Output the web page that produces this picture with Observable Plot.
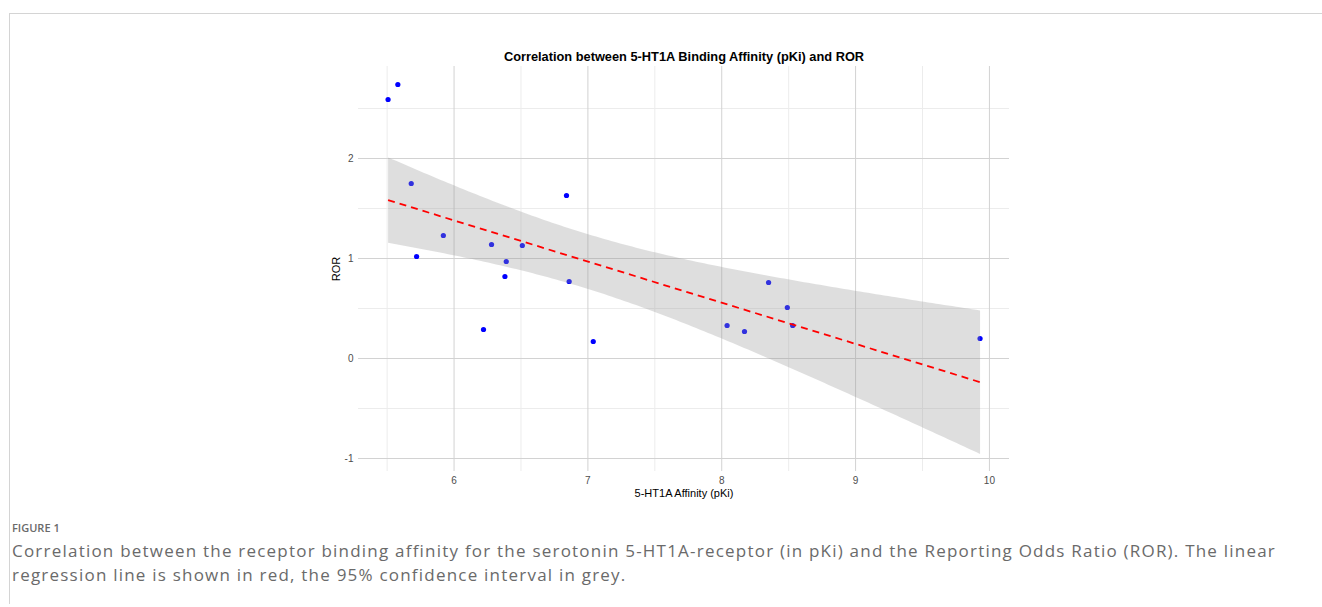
<!DOCTYPE html>
<html>
<head>
<meta charset="utf-8">
<script src="https://cdn.jsdelivr.net/npm/d3@7"></script>
<script src="https://cdn.jsdelivr.net/npm/@observablehq/plot@0.6"></script>
<style>
  html, body { margin: 0; padding: 0; background: #fff; width: 1322px; height: 607px; overflow: hidden; }
  #frame { position: absolute; left: 9px; top: 13px; right: 0; height: 590px; border-left: 1px solid #d4d4d4; border-top: 1px solid #d4d4d4; }
  #chart { position: absolute; left: 0; top: 0; }
  #figlabel { position: absolute; left: 12px; top: 520px; font-family: "Open Sans", sans-serif; font-size: 11px; font-weight: 600; color: #6a6a6a; }
  .cap { position: absolute; left: 12px; font-family: "Open Sans", sans-serif; font-size: 17px; color: #6a6a6a; white-space: nowrap; }
</style>
</head>
<body>
<div id="frame"></div>
<div id="chart"></div>
<div id="figlabel">FIGURE 1</div>
<div class="cap" id="cap1" style="top:539px">Correlation between the receptor binding affinity for the serotonin 5-HT1A-receptor (in pKi) and the Reporting Odds Ratio (ROR). The linear</div>
<div class="cap" id="cap2" style="top:563px">regression line is shown in red, the 95% confidence interval in grey.</div>
<script>
// Data
const pKi = [5.507, 5.58, 5.68, 5.72, 5.92, 6.22, 6.28, 6.38, 6.39, 6.51, 6.84, 6.86, 7.04, 8.04, 8.17, 8.35, 8.49, 8.53, 9.93];
const ROR = [2.59, 2.74, 1.75, 1.02, 1.23, 0.29, 1.14, 0.82, 0.97, 1.13, 1.63, 0.77, 0.17, 0.33, 0.27, 0.76, 0.51, 0.33, 0.20];
const xMajorTicks = [6, 7, 8, 9, 10];
const xMinorTicks = [5.5, 6.5, 7.5, 8.5, 9.5];
const yMajorTicks = [-1, 0, 1, 2];
const yMinorTicks = [-0.5, 0.5, 1.5, 2.5];
const xDomain = [5.286, 10.15];
const yDomain = [-1.13, 2.92];
const titleText = "Correlation between 5-HT1A Binding Affinity (pKi) and ROR";
const xLabel = "5-HT1A Affinity (pKi)";
const yLabel = "ROR";

const data = pKi.map((x, i) => ({x, y: ROR[i]}));
const fmt = d => String(d);

const chart = Plot.plot({
  width: 1322,
  height: 510,
  marginLeft: 358,
  marginRight: 313,
  marginTop: 66,
  marginBottom: 39,
  style: {fontFamily: "'Liberation Sans', Arial, sans-serif", background: "transparent"},
  x: {domain: xDomain},
  y: {domain: yDomain},
  marks: [
    Plot.ruleX(xMinorTicks, {stroke: "#ececec", strokeWidth: 1}),
    Plot.ruleY(yMinorTicks, {stroke: "#ececec", strokeWidth: 1}),
    Plot.ruleX(xMajorTicks, {stroke: "#d2d2d2", strokeWidth: 1}),
    Plot.ruleY(yMajorTicks, {stroke: "#d2d2d2", strokeWidth: 1}),
    Plot.axisX(xMajorTicks, {tickSize: 0, tickPadding: 5, fontSize: 10, color: "#4d4d4d", tickFormat: fmt, label: xLabel, labelAnchor: "center", labelArrow: "none", labelOffset: 25}),
    Plot.axisY(yMajorTicks, {tickSize: 0, tickPadding: 5, fontSize: 10, color: "#4d4d4d", tickFormat: fmt, label: yLabel, labelAnchor: "center", labelArrow: "none", labelOffset: 26}),
    Plot.dot(data, {x: "x", y: "y", r: 2.6, fill: "#0000ff", stroke: "none"}),
    Plot.linearRegressionY(data, {x: "x", y: "y", ci: 0.95, fill: "#999999", fillOpacity: 0.32, stroke: "#ff0000", strokeWidth: 1.8, strokeDasharray: "7,5", strokeLinecap: "butt"}),
    Plot.text([titleText], {frameAnchor: "top", lineAnchor: "bottom", dy: -6, fontSize: 12.8, fontWeight: "bold", fill: "#000"})
  ]
});
chart.querySelectorAll("[aria-label='x-axis label'] text, [aria-label='y-axis label'] text").forEach(t => { t.setAttribute("font-size", 11); t.setAttribute("fill", "#000"); });
document.getElementById("chart").appendChild(chart);

// fit caption line 1 to the reference width (x 12 → 1276)
const c1 = document.getElementById("cap1");
const c2 = document.getElementById("cap2");
const n = c1.textContent.length;
const w = c1.getBoundingClientRect().width;
const ls = (1264 - w) / n;
c1.style.letterSpacing = ls + "px";
c2.style.letterSpacing = ls + "px";
</script>
</body>
</html>
